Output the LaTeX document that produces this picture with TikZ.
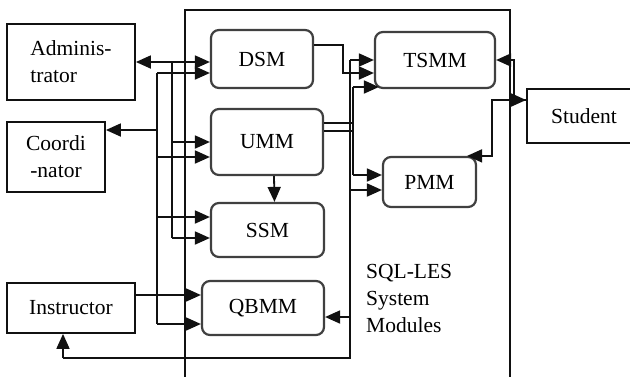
\documentclass[tikz,border=0pt]{standalone}
\usepackage{fontspec}
\setmainfont{Liberation Serif}
\usetikzlibrary{arrows.meta,positioning}
\definecolor{ink}{HTML}{111111}
\definecolor{rim}{HTML}{404040}

\begin{document}
\begin{tikzpicture}[x=1pt,y=-1pt,>={Triangle[length=15pt,width=13pt]},
 font=\fontsize{21.5}{27}\selectfont,
 lw/.style={line width=1.8pt,color=ink},
 box/.style={draw=ink,line width=1.8pt,inner sep=0pt,align=center},
 mod/.style={draw=rim,line width=2.2pt,rounded corners=8pt,inner sep=0pt},
 ar/.style={->,lw}]
 \useasboundingbox (0,0) rectangle (630,376);
 % system frame
 \draw[lw] (185,390) -- (185,10) -- (510,10) -- (510,390);
 % actors
 \node[box,align=left,minimum width=128pt,minimum height=76pt] (adm) at (71,62) {Adminis-\\trator};
 \node[box,minimum width=98pt,minimum height=70pt] (coord) at (56,157) {Coordi\\-nator};
 \node[box,minimum width=128pt,minimum height=50pt] (instr) at (71,308) {Instructor};
 \node[box,minimum width=114pt,minimum height=54pt] (student) at (584,116) {Student};
 % modules
 \node[mod,minimum width=102pt,minimum height=58pt] (dsm) at (262,59) {DSM};
 \node[mod,minimum width=112pt,minimum height=66pt] (umm) at (267,142) {UMM};
 \node[mod,minimum width=113pt,minimum height=54pt] (ssm) at (267.5,230) {SSM};
 \node[mod,minimum width=122pt,minimum height=54pt] (qbmm) at (263,308) {QBMM};
 \node[mod,minimum width=120pt,minimum height=56pt] (tsmm) at (435,60) {TSMM};
 \node[mod,minimum width=93pt,minimum height=50pt] (pmm) at (429.5,182) {PMM};
 \node[anchor=north west,align=left,inner sep=0pt] (lbl) at (366,264) {SQL-LES\\System\\Modules};
 % bus lines and ports
 \coordinate (busa) at (157,0);
 \coordinate (busb) at (172,0);
 \coordinate (busc) at (350,0);
 \coordinate (busd) at (353,0);
 \coordinate (dk) at (343,0);
 \coordinate (ret) at (63,358);
 \coordinate (dsmlo) at ([yshift=-14pt]dsm.west);
 \coordinate (ummlo) at ([yshift=-15pt]umm.west);
 \coordinate (ssmup) at ([yshift=13pt]ssm.west);
 \coordinate (ssmlo) at ([yshift=-8pt]ssm.west);
 \coordinate (qbup) at ([yshift=13pt]qbmm.west);
 \coordinate (qblo) at ([yshift=-16pt]qbmm.west);
 \coordinate (qbr) at ([yshift=-9pt]qbmm.east);
 \coordinate (coordp) at ([yshift=27pt]coord.east);
 \coordinate (tsmid) at ([yshift=-13pt]tsmm.west);
 \coordinate (tslo) at ([xshift=5pt,yshift=-27pt]tsmm.west);
 \coordinate (pmup) at ([yshift=7pt]pmm.west);
 \coordinate (pmlo) at ([yshift=-8pt]pmm.west);
 \coordinate (stp) at ([yshift=16pt]student.west);
 \coordinate (pj) at ([xshift=-34pt]stp);
 % left side
 \draw[<->,lw] (adm.east) -- (adm.east -| dsm.west);
 \draw[lw] (busb |- adm.east) -- (busb |- ssmlo);
 \draw[ar] (busb |- umm.west) -- (umm.west);
 \draw[ar] (busb |- ssmlo) -- (ssmlo);
 \draw[lw] (busa |- dsmlo) -- (busa |- qblo);
 \draw[ar] (busa |- dsmlo) -- (dsmlo);
 \draw[ar] (busa |- coordp) -- (coordp);
 \draw[ar] (busa |- ummlo) -- (ummlo);
 \draw[ar] (busa |- ssmup) -- (ssmup);
 \draw[ar] (busa |- qblo) -- (qblo);
 \draw[ar] ([yshift=13pt]instr.east) -- (qbup);
 \draw[ar] ([xshift=7pt]umm.south) -- ([xshift=7pt]ssm.north);
 % middle
 \draw[ar] ([yshift=14pt]dsm.east) -| (dk |- tsmid) -- (tsmid);
 \draw[lw] ([yshift=19pt]umm.east) -- ++(30,0);
 \draw[lw] ([yshift=11pt]umm.east) -- ++(30,0);
 \draw[lw] (busc |- tsmm.west) |- (ret);
 \draw[ar] (ret) -- (ret |- instr.south);
 \draw[ar] (busc |- tsmm.west) -- (tsmm.west);
 \draw[ar] (busc |- pmlo) -- (pmlo);
 \draw[ar] (busc |- qbr) -- (qbr);
 \draw[lw] (busd |- tslo) -- (busd |- pmup);
 \draw[ar] (busd |- tslo) -- (tslo);
 \draw[ar] (busd |- pmup) -- (pmup);
 % right side
 \draw[<->,lw] (tsmm.east) -| ([xshift=-12pt]stp) -- (stp);
 \draw[ar] (stp) -| (pj |- pmm.north) -- ([xshift=-10pt]pmm.north east);
\end{tikzpicture}
\end{document}
